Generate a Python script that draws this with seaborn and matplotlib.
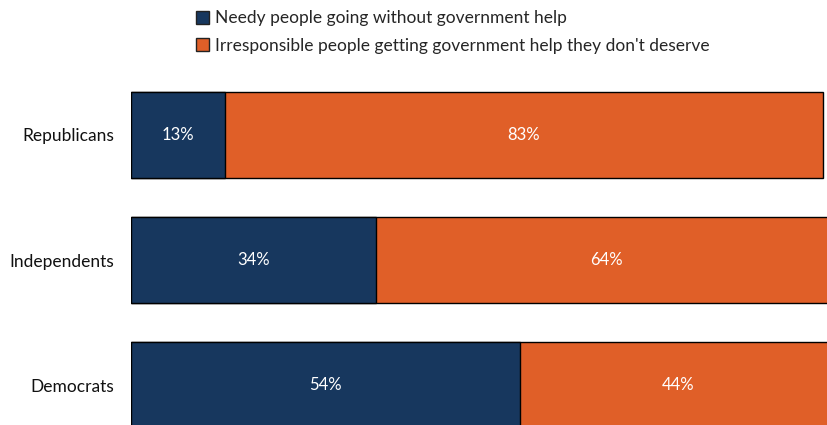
import matplotlib
matplotlib.use("Agg")
import matplotlib.pyplot as plt
from matplotlib.patches import Patch
import seaborn as sns
import pandas as pd

groups = ["Republicans", "Independents", "Democrats"]
needy = [13, 34, 54]
irresponsible = [83, 64, 44]
series_names = ["Needy people going without government help",
                "Irresponsible people getting government help they don't deserve"]
navy = "#17375E"
orange = "#E05F28"

sns.set_theme(style="white")
plt.rcParams['font.family'] = ['Lato', 'DejaVu Sans']

df = pd.DataFrame({"group": groups, "needy": needy, "irr": irresponsible})
df["total"] = df["needy"] + df["irr"]

fig = plt.figure(figsize=(8.27, 4.25), dpi=100)
ax = fig.add_axes([131/827, 0, 1 - 131/827, 1])

sns.barplot(data=df, y="group", x="total", color=orange, orient="h", width=0.69,
            edgecolor="black", linewidth=1.0, saturation=1, ax=ax)
sns.barplot(data=df, y="group", x="needy", color=navy, orient="h", width=0.69,
            edgecolor="black", linewidth=1.0, saturation=1, ax=ax)

ax.set_xlim(0, 96.6)
ax.set_ylim(2.32, -1.08)
for s in ax.spines.values():
    s.set_visible(False)
ax.set_xticks([])
ax.set_xlabel("")
ax.set_ylabel("")
ax.tick_params(axis="y", length=0, pad=12, labelsize=12.5, labelcolor="#111111")

for i, (n, r) in enumerate(zip(needy, irresponsible)):
    ax.text(n / 2, i, f"{n}%", ha="center", va="center", color="white", fontsize=12)
    ax.text(n + r / 2, i, f"{r}%", ha="center", va="center", color="white", fontsize=12)

handles = [Patch(facecolor=navy, edgecolor="#222222", linewidth=1.0),
           Patch(facecolor=orange, edgecolor="#222222", linewidth=1.0)]
fig.legend(handles, series_names, loc="upper left", bbox_to_anchor=(186/827, 1.0),
           frameon=False, fontsize=12.5, handlelength=0.75, handleheight=0.75,
           handletextpad=0.3, labelspacing=0.65, borderaxespad=0.2)

fig.savefig("out.png", dpi=100)
